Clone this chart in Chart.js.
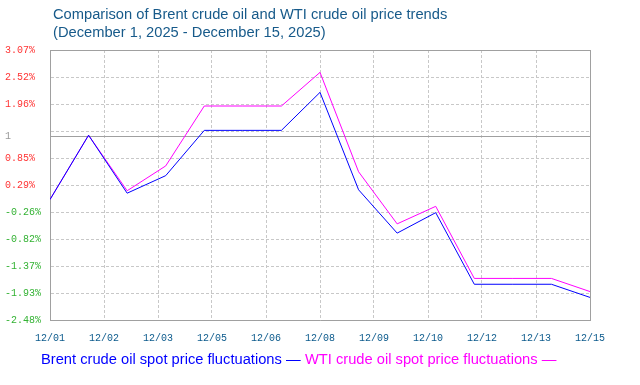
<!DOCTYPE html>
<html>
<head>
<meta charset="utf-8">
<script src="https://cdn.jsdelivr.net/npm/chart.js@4/dist/chart.umd.min.js"></script>
<style>
  body { margin: 0; background: #fff; }
</style>
</head>
<body>
<canvas id="myChart" width="640" height="385"></canvas>
<script>
const dates = ['12/01', '12/02', '12/03', '12/04', '12/05', '12/06', '12/07', '12/08',
  '12/09', '12/10', '12/11', '12/12', '12/13', '12/14', '12/15'];
const brent = [0.00, 1.32, 0.13, 0.49, 1.42, 1.42, 1.42, 2.20, 0.20, -0.69, -0.27, -1.74, -1.74, -1.74, -2.01];
const wti = [0.00, 1.32, 0.18, 0.69, 1.92, 1.92, 1.92, 2.61, 0.57, -0.50, -0.14, -1.62, -1.62, -1.62, -1.89];

const xTickLabels = ['12/01', '12/02', '12/03', '12/05', '12/06', '12/08', '12/09', '12/10', '12/12', '12/13', '12/15'];
const yTickValues = [-2.48, -1.925, -1.37, -0.815, -0.26, 0.295, 0.85, 1.405, 1.96, 2.515, 3.07];
const yTickLabels = ['-2.48%', '-1.93%', '-1.37%', '-0.82%', '-0.26%', '0.29%', '0.85%', '', '1.96%', '2.52%', '3.07%'];
const baseline = 1.29;
const baselineLabel = '1';

const titleLines = ['Comparison of Brent crude oil and WTI crude oil price trends',
  '(December 1, 2025 - December 15, 2025)'];

const frameColor = '#a0a0a0';
const gridColor = '#c8c8c8';

const titlePlugin = {
  id: 'topTitle',
  afterDraw(chart) {
    const c = chart.ctx;
    c.save();
    c.font = '14.7px "Liberation Sans", Arial, sans-serif';
    c.fillStyle = '#175a8a';
    c.textBaseline = 'middle';
    c.textAlign = 'left';
    c.fillText(titleLines[0], chart.chartArea.left + 3, 15);
    c.fillText(titleLines[1], chart.chartArea.left + 3, 33);
    c.restore();
  }
};

const ctx = document.getElementById('myChart');

new Chart(ctx, {
  type: 'line',
  data: {
    datasets: [{
      label: 'Brent crude oil spot price fluctuations \u2014',
      data: brent.map((v, i) => ({ x: i, y: v })),
      borderColor: '#0000ff',
      borderWidth: 1,
      pointRadius: 0,
      fill: false,
      tension: 0
    }, {
      label: 'WTI crude oil spot price fluctuations \u2014',
      data: wti.map((v, i) => ({ x: i, y: v })),
      borderColor: '#ff00ff',
      borderWidth: 1,
      pointRadius: 0,
      fill: false,
      tension: 0
    }]
  },
  options: {
    responsive: false,
    animation: false,
    layout: { padding: { top: 50, left: 5, right: 50, bottom: 8 } },
    plugins: {
      title: { display: false },
      tooltip: { enabled: false },
      legend: {
        position: 'bottom',
        labels: {
          // negative box width pulls the text left so items sit a space apart
          boxWidth: -5,
          boxHeight: 0,
          padding: 2,
          font: { family: '"Liberation Sans", Arial, sans-serif', size: 14.7 },
          generateLabels(chart) {
            return chart.data.datasets.map((ds, i) => ({
              text: ds.label,
              fontColor: ds.borderColor,
              fillStyle: 'transparent',
              strokeStyle: 'transparent',
              lineWidth: 0,
              datasetIndex: i
            }));
          }
        }
      }
    },
    scales: {
      x: {
        type: 'linear',
        min: 0,
        max: dates.length - 1,
        afterBuildTicks(scale) {
          const step = (dates.length - 1) / (xTickLabels.length - 1);
          scale.ticks = xTickLabels.map((l, i) => ({ value: i * step }));
        },
        afterFit(scale) { scale.height = 30; },
        ticks: {
          autoSkip: false,
          maxRotation: 0,
          padding: 12,
          color: '#0b5a8c',
          font: { family: '"Liberation Mono", "DejaVu Sans Mono", monospace', size: 10 },
          callback: (v, i) => xTickLabels[i]
        },
        grid: {
          drawTicks: false,
          color: (c) => (c.index === xTickLabels.length - 1 ? frameColor : gridColor)
        },
        border: {
          color: frameColor,
          width: 1,
          dash: (c) => (c.tick && c.index > 0 && c.index < xTickLabels.length - 1 ? [3, 2] : [])
        }
      },
      y: {
        min: yTickValues[0],
        max: yTickValues[yTickValues.length - 1],
        afterBuildTicks(scale) {
          scale.ticks = yTickValues.map(v => ({ value: v })).concat([{ value: baseline }]);
        },
        afterFit(scale) { scale.width = 45; },
        ticks: {
          autoSkip: false,
          crossAlign: 'far',
          padding: 4,
          font: { family: '"Liberation Mono", "DejaVu Sans Mono", monospace', size: 10 },
          color: (c) => {
            if (c.index >= yTickLabels.length) return '#999999';
            return c.tick.value > 0 ? '#ff3333' : '#33b233';
          },
          callback: (v, i) => (i < yTickLabels.length ? yTickLabels[i] : baselineLabel)
        },
        grid: {
          drawTicks: false,
          color: (c) => (c.index === yTickValues.length - 1 || c.index >= yTickValues.length ? frameColor : gridColor)
        },
        border: {
          color: frameColor,
          width: 1,
          dash: (c) => (c.tick && c.index > 0 && c.index < yTickValues.length - 1 ? [3, 2] : [])
        }
      }
    }
  },
  plugins: [titlePlugin]
});
</script>
</body>
</html>
